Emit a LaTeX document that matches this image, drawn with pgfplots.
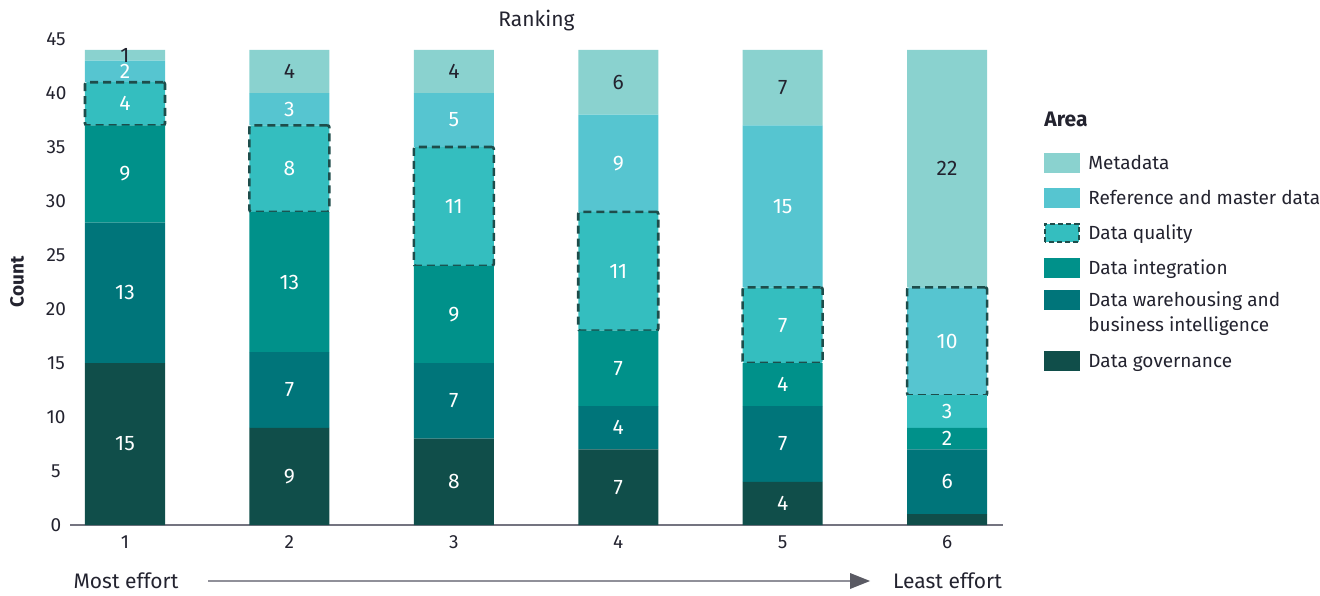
\documentclass[border=0pt]{standalone}
\usepackage{fontspec}
\setmainfont{Fira Sans}
\usepackage{pgfplots}
\usepackage{pgfplotstable}
\pgfplotsset{compat=1.18}
\usetikzlibrary{arrows.meta}

\definecolor{cmeta}{HTML}{8AD2CF}
\definecolor{cref}{HTML}{56C5D0}
\definecolor{cdq}{HTML}{34BEBF}
\definecolor{cint}{HTML}{00918A}
\definecolor{cwh}{HTML}{00757A}
\definecolor{cgov}{HTML}{104E4A}
\definecolor{dashcol}{HTML}{1E4D4B}
\definecolor{textdark}{HTML}{23232F}
\definecolor{axisgray}{HTML}{747480}

% columns: dqa/refa only bar 6 plain/dashed split, dqb/refb the others
\pgfplotstableread{
x gov wh int dqa dqb refa refb meta
1 15 13 9  0 4  0  2  1
2 9  7  13 0 8  0  3  4
3 8  7  9  0 11 0  5  4
4 7  4  7  0 11 0  9  6
5 4  7  4  0 7  0  15 7
6 1  6  2  3 0  10 0  22
}\ranking

\pgfplotsset{
  seg/.style 2 args={
    visualization depends on={\thisrow{#1}\as\segval},
    nodes near coords={\ifdim\segval pt>#2pt\pgfmathprintnumber{\segval}\fi},
    every node near coord/.append style={anchor=center,
      font=\fontsize{10.5}{12}\selectfont, text=white},
  },
  boxed/.style={draw=dashcol, line width=1.3pt, dash pattern=on 4pt off 2.5pt,
    rounded corners=1pt},
  under/.style={on layer=axis background},
}

\begin{document}
\begin{tikzpicture}[x=1pt,y=1pt]
\begin{axis}[
  set layers,
  at={(35pt,35pt)}, anchor=south west,
  scale only axis, width=466.5pt, height=243pt,
  ybar stacked, bar width=40pt,
  xmin=0.6655, xmax=6.34, ymin=0, ymax=45,
  xtick={1,...,6}, ytick={0,5,...,45},
  axis x line*=bottom, axis y line*=left,
  y axis line style={draw=none},
  x axis line style={draw=axisgray, line width=0.8pt, -},
  major tick length=0pt,
  tick label style={font=\fontsize{9.5}{11}\selectfont, text=textdark},
  /pgf/number format/assume math mode=true,
  xticklabel style={yshift=-2pt},
  yticklabel style={anchor=center, xshift=-7pt},
  ylabel={\bfseries Count},
  every axis y label/.style={at={(axis description cs:0,0.5)}, xshift=-26.5pt,
    rotate=90, anchor=center, font=\fontsize{9.5}{11}\selectfont, text=textdark},
  title={Ranking},
  title style={at={(axis description cs:0.5,1)}, anchor=center, yshift=3pt,
    font=\fontsize{10.5}{12}\selectfont, text=textdark},
]
\addplot[fill=cgov, draw=none, seg={gov}{1}] table[x=x, y=gov] {\ranking};
\addplot[fill=cwh, draw=none, seg={wh}{0}] table[x=x, y=wh] {\ranking};
\addplot[fill=cint, draw=none, seg={int}{0}] table[x=x, y=int] {\ranking};
\addplot[fill=cdq, draw=none, seg={dqa}{0}] table[x=x, y=dqa] {\ranking};
\addplot[fill=cdq, boxed, seg={dqb}{0}] table[x=x, y=dqb] {\ranking};
\addplot[fill=cref, boxed, seg={refa}{0}] table[x=x, y=refa] {\ranking};
\addplot[fill=cref, draw=none, under, seg={refb}{0}] table[x=x, y=refb] {\ranking};
\addplot[fill=cmeta, draw=none, under, seg={meta}{0},
  every node near coord/.append style={text=textdark}] table[x=x, y=meta] {\ranking};
\end{axis}

% effort arrow
\node[anchor=base, font=\fontsize{10.5}{12}\selectfont, text=textdark] at (63,3.2) {Most effort};
\node[anchor=base, font=\fontsize{10.5}{12}\selectfont, text=textdark] at (473.75,3.2) {Least effort};
\draw[draw=axisgray!80, line width=1pt] (104,7) -- (428,7);
\fill[textdark!75] (425,11) -- (435,7) -- (425,3) -- cycle;

% legend
\begin{scope}[every node/.style={anchor=base west, font=\fontsize{9.5}{11}\selectfont, text=textdark, inner sep=0pt}]
\node[font=\bfseries\fontsize{10.5}{12}\selectfont] at (522,234.3) {Area};
\fill[cmeta] (522,211) rectangle (540,221);
\node at (544,212.6) {Metadata};
\fill[cref] (522,193.5) rectangle (540,203.5);
\node at (544,195.1) {Reference and master data};
\filldraw[fill=cdq, draw=dashcol, line width=0.8pt, dash pattern=on 2.5pt off 1.5pt] (522.4,176.4) rectangle (539.6,185.6);
\node at (544,177.6) {Data quality};
\fill[cint] (522,158.5) rectangle (540,168.5);
\node at (544,160.1) {Data integration};
\fill[cwh] (522,142.5) rectangle (540,152.5);
\node at (544,144.1) {Data warehousing and};
\node at (544,131.6) {business intelligence};
\fill[cgov] (522,112) rectangle (540,122);
\node at (544,113.6) {Data governance};
\end{scope}
\pgfresetboundingbox
\path[use as bounding box] (0,0) rectangle (660,297.5);
\end{tikzpicture}
\end{document}
